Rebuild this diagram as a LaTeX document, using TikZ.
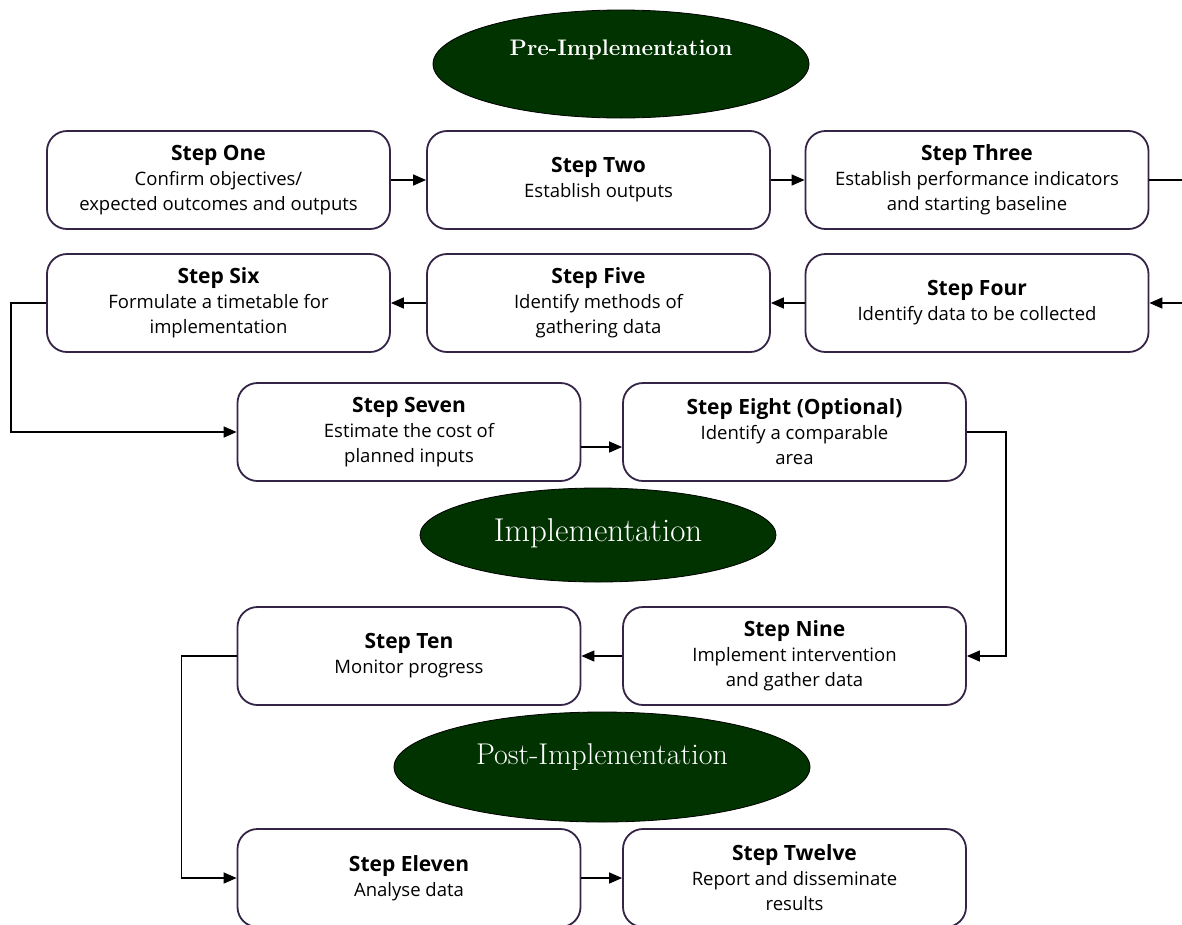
\documentclass[tikz,border=0pt]{standalone}
\usepackage{fontspec}
\usetikzlibrary{arrows.meta,shapes.geometric}
\newfontfamily\boxfont{Open Sans}
\definecolor{boxline}{RGB}{52,36,70}
\definecolor{phasegreen}{RGB}{0,51,0}
\tikzset{
  stepbox/.style={draw=boxline, line width=1.8pt, rounded corners=20pt, fill=white,
    minimum width=343pt, minimum height=98pt, align=center, inner sep=0pt,
    font=\boxfont\fontsize{18.5}{25}\selectfont},
  phase/.style={ellipse, draw=black, line width=0.8pt, fill=phasegreen, text=white, inner sep=0pt},
  flow/.style={line width=1.4pt, -{Triangle[length=13pt,width=11pt]}}
}
\newcommand{\steptitle}[1]{{\bfseries\fontsize{21}{25}\selectfont #1}}
\begin{document}
\begin{tikzpicture}[x=1pt,y=-1pt]
\useasboundingbox (0,0) rectangle (1182,924);
\clip (0,0) rectangle (1182,924);
\fill[white] (0,0) rectangle (1182,924);

% phase labels
\node[phase, minimum width=376pt, minimum height=108pt] (pre) at (621,64) {};
\node[text=white, font=\bfseries\fontsize{22.5}{26}\selectfont] (pretext) at (621,50) {Pre-Implementation};
\node[phase, minimum width=356pt, minimum height=94pt] (impl) at (598,535) {};
\node[text=white, font=\fontsize{33}{36}\selectfont] (impltext) at (598,533) {Implementation};
\node[phase, minimum width=416pt, minimum height=110pt] (post) at (602,767) {};
\node[text=white, font=\fontsize{30}{34}\selectfont] (posttext) at (602,757) {Post-Implementation};

% steps
\node[stepbox] (one)   at (218.5,180) {\steptitle{Step One}\\Confirm objectives/\\expected outcomes and outputs};
\node[stepbox] (two)   at (598.5,180) {\steptitle{Step Two}\\Establish outputs};
\node[stepbox] (three) at (977,180)   {\steptitle{Step Three}\\Establish performance indicators\\and starting baseline};
\node[stepbox] (six)   at (218.5,303) {\steptitle{Step Six}\\Formulate a timetable for\\implementation};
\node[stepbox] (five)  at (598.5,303) {\steptitle{Step Five}\\Identify methods of\\gathering data};
\node[stepbox] (four)  at (977,303)   {\steptitle{Step Four}\\Identify data to be collected};
\node[stepbox] (seven) at (409,432)   {\steptitle{Step Seven}\\Estimate the cost of\\planned inputs};
\node[stepbox] (eight) at (794.5,432) {\steptitle{Step Eight (Optional)}\\Identify a comparable\\area};
\node[stepbox] (ten)   at (409,656)   {\steptitle{Step Ten}\\Monitor progress};
\node[stepbox] (nine)  at (794.5,656) {\steptitle{Step Nine}\\Implement intervention\\and gather data};
\node[stepbox] (eleven) at (409,878)  {\steptitle{Step Eleven}\\Analyse data};
\node[stepbox] (twelve) at (794.5,878) {\steptitle{Step Twelve}\\Report and disseminate\\results};

% connectors
\coordinate (wrap) at (1200,180);
\draw[flow] (one.east) -- (two.west);
\draw[flow] (two.east) -- (three.west);
\draw[flow] (three.east) -- (wrap) |- (four.east);
\draw[flow] (four.west) -- (five.east);
\draw[flow] (five.west) -- (six.east);
\draw[flow] (six.west) -- ++(-35,0) |- (seven.west);
\draw[flow] ([yshift=-15pt]seven.east) -- ([yshift=-15pt]eight.west);
\draw[flow] (eight.east) -- ++(39,0) |- (nine.east);
\draw[flow] (nine.west) -- (ten.east);
\draw[flow] (ten.west) -- ++(-55,0) |- (eleven.west);
\draw[flow] (eleven.east) -- (twelve.west);
\end{tikzpicture}
\end{document}
